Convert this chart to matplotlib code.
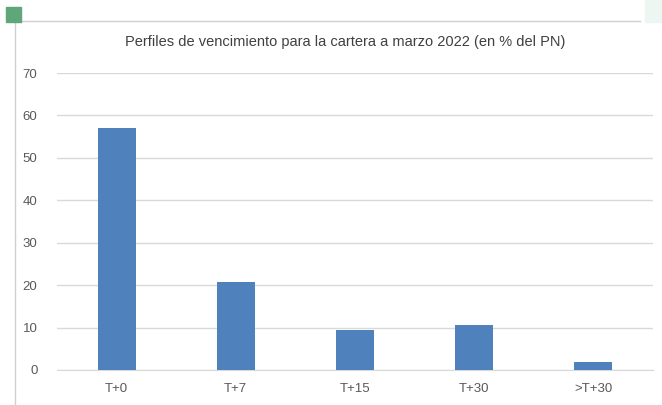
import matplotlib
matplotlib.use("Agg")
import matplotlib.pyplot as plt
import matplotlib.patches as patches
import numpy as np

categories = ['T+0', 'T+7', 'T+15', 'T+30', '>T+30']
values = [57.1, 20.8, 9.4, 10.7, 1.9]

plt.rcParams['font.family'] = ['Liberation Sans', 'DejaVu Sans']

fig = plt.figure(figsize=(6.62, 4.05), dpi=100)
ax = fig.add_axes([57 / 662, 35 / 405, (653 - 57) / 662, (370 - 73) / 405])

x = np.arange(len(categories))
ax.bar(x, values, 0.32, color='#4f81bd', zorder=3)

ax.set_xlim(-0.5, len(categories) - 0.5)
ax.set_ylim(0, 70)
ax.set_yticks(range(0, 71, 10))
ax.set_xticks(x)
ax.set_xticklabels(categories)
ax.tick_params(axis='both', length=0, labelsize=9.5, colors='#595959')
ax.tick_params(axis='y', pad=14)
ax.tick_params(axis='x', pad=9)
ax.grid(axis='y', color='#d9d9d9', linewidth=1, zorder=0)
for s in ['top', 'right', 'left']:
    ax.spines[s].set_visible(False)
ax.spines['bottom'].set_color('#d9d9d9')

fig.text(345 / 662, 1 - 42 / 405, 'Perfiles de vencimiento para la cartera a marzo 2022 (en % del PN)',
         ha='center', va='center', fontsize=10.5, color='#404040')

# frame decoration of the chart object
fig.add_artist(plt.Line2D([15 / 662, 15 / 662], [0, 1 - 20 / 405], color='#d0d0d0', linewidth=1, zorder=1))
fig.add_artist(plt.Line2D([20 / 662, 640 / 662], [1 - 21 / 405, 1 - 21 / 405], color='#d0d0d0', linewidth=1, zorder=1))
fig.add_artist(patches.Rectangle((6 / 662, 1 - 22 / 405), 15 / 662, 15 / 405,
                                 transform=fig.transFigure, color='#5fa77a', zorder=5))
fig.add_artist(patches.Rectangle((645 / 662, 1 - 22 / 405), 17 / 662, 22 / 405,
                                 transform=fig.transFigure, color='#eef6f2', zorder=5))

fig.savefig('out.png', dpi=100)
